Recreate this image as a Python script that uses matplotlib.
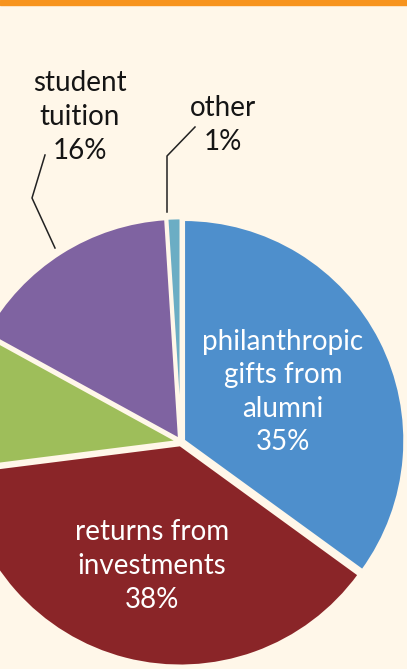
import matplotlib
matplotlib.use("Agg")
import matplotlib.pyplot as plt
from matplotlib.patches import Rectangle

# data
categories = ["philanthropic\ngifts from\nalumni", "returns from\ninvestments", "", "student\ntuition", "other"]
values = [35, 38, 10, 16, 1]
colors = ["#4E8FCC", "#8A2528", "#9EBE5A", "#7F63A1", "#6BADC4"]

W, H = 407, 669
BG = "#FFF7E9"
plt.rcParams['font.family'] = ['Lato', 'DejaVu Sans']

fig = plt.figure(figsize=(W / 100, H / 100), dpi=100, facecolor=BG)
ax = fig.add_axes([0, 0, 1, 1])
ax.set_facecolor(BG)

cx, cy, R = 181, H - 442, 221
ax.pie(values, colors=colors, startangle=90, counterclock=False,
       center=(cx, cy), radius=R, explode=[3] * len(values),
       wedgeprops=dict(edgecolor=BG, linewidth=2.0))
ax.set_xlim(0, W)
ax.set_ylim(0, H)
ax.set_aspect('equal')
ax.axis('off')

fs = 20
ls = 1.36
kw = dict(fontsize=fs, ha="center", va="center", linespacing=ls, fontweight="normal")
# inside labels
ax.text(283, H - 392, f"{categories[0]}\n{values[0]}%", color="white", **kw)
ax.text(152, H - 566, f"{categories[1]}\n{values[1]}%", color="white", **kw)
# outside labels
ax.text(80, H - 117, f"{categories[3]}\n{values[3]}%", color="#151515", **kw)
ax.text(223, H - 125, f"{categories[4]}\n{values[4]}%", color="#151515", **kw)

# leader lines
ax.plot([45, 32, 55], [H - 155, H - 198, H - 248], color="#222222", lw=1.1)
ax.plot([195, 167, 167], [H - 127, H - 156, H - 212], color="#222222", lw=1.1)

# orange top bar
fig.patches.append(Rectangle((0, 1 - 5 / H), 1, 5 / H, transform=fig.transFigure,
                             color="#F7941E", zorder=10))

fig.savefig("out.png", dpi=100, facecolor=BG)
